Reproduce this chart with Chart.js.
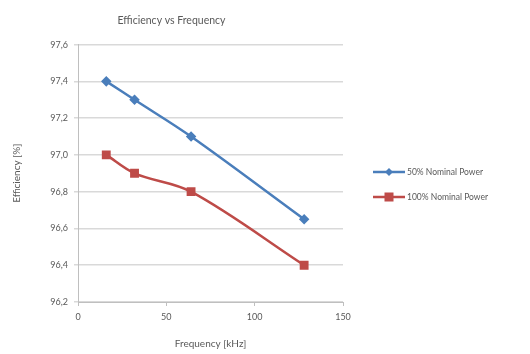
<!DOCTYPE html>
<html>
<head>
<meta charset="utf-8">
<script src="https://cdn.jsdelivr.net/npm/chart.js@4.4.1/dist/chart.umd.min.js"></script>
<style>
  html, body { margin: 0; padding: 0; background: #fff; }
  #wrap { width: 530px; height: 354px; }
</style>
</head>
<body>
<div id="wrap"><canvas id="effChart" width="530" height="354"></canvas></div>
<script>
// data
const frequencies = [16, 32, 64, 128];
const halfPower = [97.4, 97.3, 97.1, 96.65];
const fullPower = [97.0, 96.9, 96.8, 96.4];
const seriesNames = ['50% Nominal Power', '100% Nominal Power'];
const yTicks = [96.2, 96.4, 96.6, 96.8, 97.0, 97.2, 97.4, 97.6];
const xTicks = [0, 50, 100, 150];

const FONT = 'Lato, "Open Sans", sans-serif';
const TEXT = '#595959';

function toPoints(xs, ys) {
    return xs.map((x, i) => ({ x: x, y: ys[i] }));
}

// legend like excel: short line with marker in the middle
const sideLegend = {
    id: 'sideLegend',
    afterDraw(chart) {
        const ctx = chart.ctx;
        const rows = [172, 197];
        chart.data.datasets.forEach(function(ds, i) {
            const y = rows[i];
            ctx.save();
            ctx.strokeStyle = ds.borderColor;
            ctx.lineWidth = 2.5;
            ctx.beginPath();
            ctx.moveTo(373, y);
            ctx.lineTo(405, y);
            ctx.stroke();
            ctx.fillStyle = ds.pointBackgroundColor;
            if (ds.pointStyle === 'rectRot') {
                ctx.beginPath();
                ctx.moveTo(389, y - 4); ctx.lineTo(393, y); ctx.lineTo(389, y + 4); ctx.lineTo(385, y);
                ctx.closePath();
                ctx.fill();
            } else {
                ctx.fillRect(384.5, y - 4.5, 9, 9);
            }
            ctx.fillStyle = TEXT;
            ctx.font = '8.5px ' + FONT;
            ctx.textBaseline = 'middle';
            ctx.fillText(ds.label, 407, y + 0.5);
            ctx.restore();
        });
    }
};

new Chart(document.getElementById('effChart').getContext('2d'), {
    type: 'line',
    data: {
        datasets: [{
            label: seriesNames[0],
            data: toPoints(frequencies, halfPower),
            borderColor: '#4a7ebb',
            backgroundColor: '#4a7ebb',
            pointBackgroundColor: '#4a7ebb',
            pointBorderColor: '#4a7ebb',
            pointStyle: 'rectRot',
            pointRadius: 3.5,
            borderWidth: 2.5,
            tension: 0.35
        }, {
            label: seriesNames[1],
            data: toPoints(frequencies, fullPower),
            borderColor: '#be4b48',
            backgroundColor: '#be4b48',
            pointBackgroundColor: '#be4b48',
            pointBorderColor: '#be4b48',
            pointStyle: 'rect',
            pointRadius: 4.5,
            borderWidth: 2.5,
            tension: 0.35
        }]
    },
    options: {
        responsive: false,
        animation: false,
        layout: { padding: { left: 0, right: 187, top: 0, bottom: 0 } },
        plugins: {
            legend: { display: false },
            tooltip: { enabled: false },
            title: {
                display: true,
                text: 'Efficiency vs Frequency',
                color: TEXT,
                font: { family: FONT, size: 10.5, weight: 'normal' },
                padding: { top: 14, bottom: 18 }
            }
        },
        scales: {
            x: {
                type: 'linear',
                min: 0, max: 150,
                afterBuildTicks: function(scale) { scale.ticks = xTicks.map(v => ({ value: v })); },
                afterFit: function(scale) { scale.height = 52; },
                grid: { drawOnChartArea: false, color: '#bfbfbf', tickLength: 4 },
                border: { color: '#bfbfbf' },
                ticks: { color: TEXT, font: { family: FONT, size: 9 }, padding: 6 },
                title: {
                    display: true, text: 'Frequency [kHz]', color: TEXT,
                    font: { family: FONT, size: 10 }, padding: { top: 3 }
                }
            },
            y: {
                min: 96.2, max: 97.6,
                afterBuildTicks: function(scale) { scale.ticks = yTicks.map(v => ({ value: v })); },
                afterFit: function(scale) { scale.width = 78; },
                grid: { color: '#d9d9d9', tickLength: 4, lineWidth: 1.5 },
                border: { color: '#bfbfbf' },
                ticks: {
                    color: TEXT, font: { family: FONT, size: 9 }, padding: 6,
                    callback: function(v) { return v.toFixed(1).replace('.', ','); }
                },
                title: {
                    display: true, text: 'Efficiency [%]', color: TEXT,
                    font: { family: FONT, size: 10 }, padding: { top: 11, bottom: 0 }
                }
            }
        }
    },
    plugins: [sideLegend]
});
</script>
</body>
</html>
